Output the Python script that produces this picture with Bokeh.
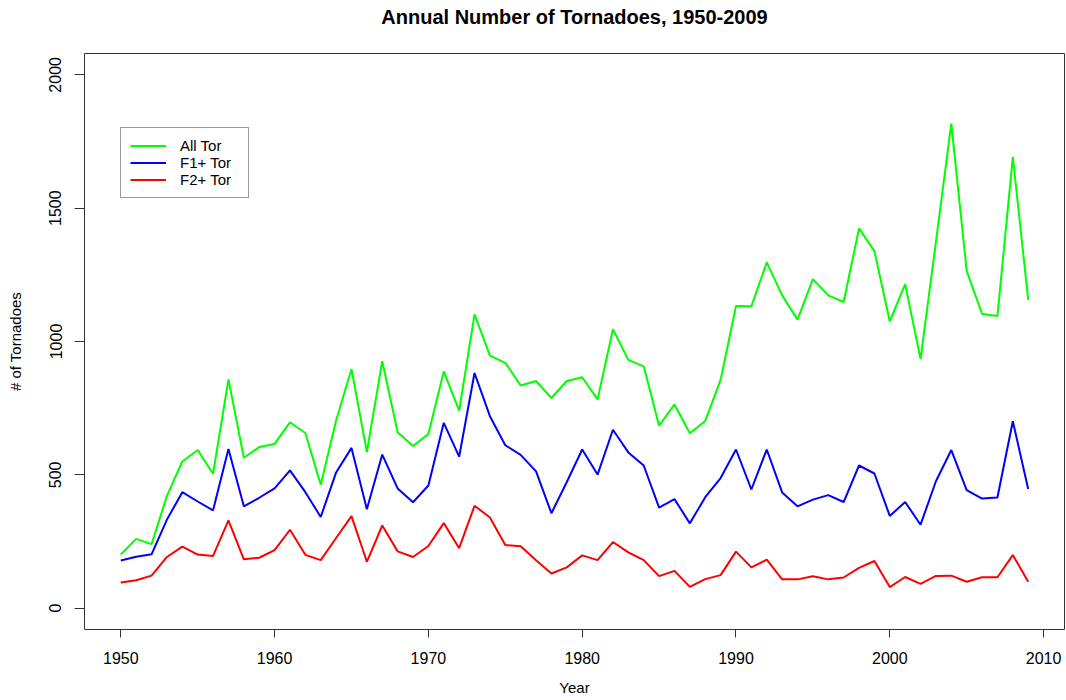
from bokeh.plotting import figure
from bokeh.models import Range1d, FixedTicker, Legend, LegendItem, Title
from bokeh.embed import file_html
from bokeh.resources import INLINE

# ---- data ----
years = list(range(1950, 2010))
all_tor = [201, 260, 240, 421, 550, 593, 504, 858, 564, 604,
           616, 697, 657, 463, 704, 897, 585, 926, 660, 608,
           653, 888, 741, 1102, 947, 920, 835, 852, 788, 852,
           866, 783, 1046, 931, 907, 684, 764, 656, 702, 856,
           1133, 1132, 1297, 1173, 1082, 1234, 1173, 1148, 1424, 1339,
           1075, 1215, 934, 1374, 1817, 1265, 1103, 1096, 1692, 1156]
f1_tor = [179, 193, 202, 332, 435, 400, 367, 597, 382, 414,
          449, 517, 435, 342, 509, 601, 371, 576, 449, 397,
          460, 695, 568, 882, 720, 611, 575, 513, 356, 473,
          595, 501, 669, 584, 535, 377, 409, 318, 416, 488,
          595, 445, 595, 434, 382, 407, 424, 398, 535, 505,
          346, 398, 313, 476, 593, 443, 411, 415, 701, 447]
f2_tor = [96, 105, 122, 192, 231, 201, 196, 329, 183, 189,
          218, 294, 200, 180, 263, 345, 174, 310, 213, 192,
          233, 319, 225, 384, 340, 237, 232, 180, 130, 153,
          198, 180, 248, 209, 180, 120, 140, 80, 109, 124,
          212, 153, 182, 108, 108, 120, 108, 115, 151, 177,
          79, 117, 91, 121, 122, 99, 116, 116, 199, 99]
series_names = ["All Tor", "F1+ Tor", "F2+ Tor"]
series_colors = ["#00FF00", "#0000FF", "#FF0000"]
x_ticks = [1950, 1960, 1970, 1980, 1990, 2000, 2010]
y_ticks = [0, 500, 1000, 1500, 2000]
title_text = "Annual Number of Tornadoes, 1950-2009"

FONT = "Liberation Sans"
AX = "#333333"

p = figure(frame_width=980, frame_height=576,
           min_border_left=84, min_border_right=2,
           min_border_top=53, min_border_bottom=71,
           x_range=Range1d(1947.64, 2011.36), y_range=Range1d(-80, 2080),
           output_backend="svg", toolbar_location=None, title=None)

# a blank second line gives the title box extra height, so the text sits higher
main_title = Title(text=title_text + "\n ", align="center", vertical_align="top",
                   text_font=FONT, text_font_size="20px",
                   text_font_style="bold", text_color="black", standoff=4)
p.add_layout(main_title, "above")

p.xgrid.grid_line_color = None
p.ygrid.grid_line_color = None
p.outline_line_color = AX
p.outline_line_width = 1
p.background_fill_color = "white"
p.border_fill_color = "white"

renderers = []
for vals, col in zip([all_tor, f1_tor, f2_tor], series_colors):
    r = p.line(x=years, y=vals, line_color=col, line_width=2)
    renderers.append(r)

xa = p.xaxis[0]
xa.ticker = FixedTicker(ticks=x_ticks)
xa.axis_line_color = None
xa.major_tick_line_color = AX
xa.major_tick_out = 8
xa.major_tick_in = 0
xa.minor_tick_line_color = None
xa.major_label_text_font = FONT
xa.major_label_text_font_size = "16px"
xa.major_label_text_color = "black"
xa.major_label_standoff = 14
xa.axis_label = "Year"
xa.axis_label_text_font = FONT
xa.axis_label_text_font_size = "15px"
xa.axis_label_text_font_style = "normal"
xa.axis_label_text_color = "black"
xa.axis_label_standoff = 12

ya = p.yaxis[0]
ya.ticker = FixedTicker(ticks=y_ticks)
ya.axis_line_color = None
ya.major_tick_line_color = AX
ya.major_tick_out = 10
ya.major_tick_in = 0
ya.minor_tick_line_color = None
ya.major_label_orientation = "vertical"
ya.major_label_text_font = FONT
ya.major_label_text_font_size = "16px"
ya.major_label_text_color = "black"
ya.major_label_standoff = 13
ya.axis_label = "# of Tornadoes"
ya.axis_label_text_font = FONT
ya.axis_label_text_font_size = "15px"
ya.axis_label_text_font_style = "normal"
ya.axis_label_text_color = "black"
ya.axis_label_standoff = 23

legend = Legend(items=[LegendItem(label=n, renderers=[r]) for n, r in zip(series_names, renderers)],
                location=(36, 431))
legend.border_line_color = AX
legend.border_line_width = 1
legend.background_fill_color = "white"
legend.background_fill_alpha = 1.0
legend.label_text_font = FONT
legend.label_text_font_size = "15px"
legend.label_text_color = "black"
legend.glyph_width = 36
legend.glyph_height = 15
legend.label_height = 15
legend.label_width = 59
legend.label_standoff = 14
legend.spacing = 0
legend.padding = 9
legend.margin = 0
p.add_layout(legend)

open("out.html", "w").write(file_html(p, INLINE))
